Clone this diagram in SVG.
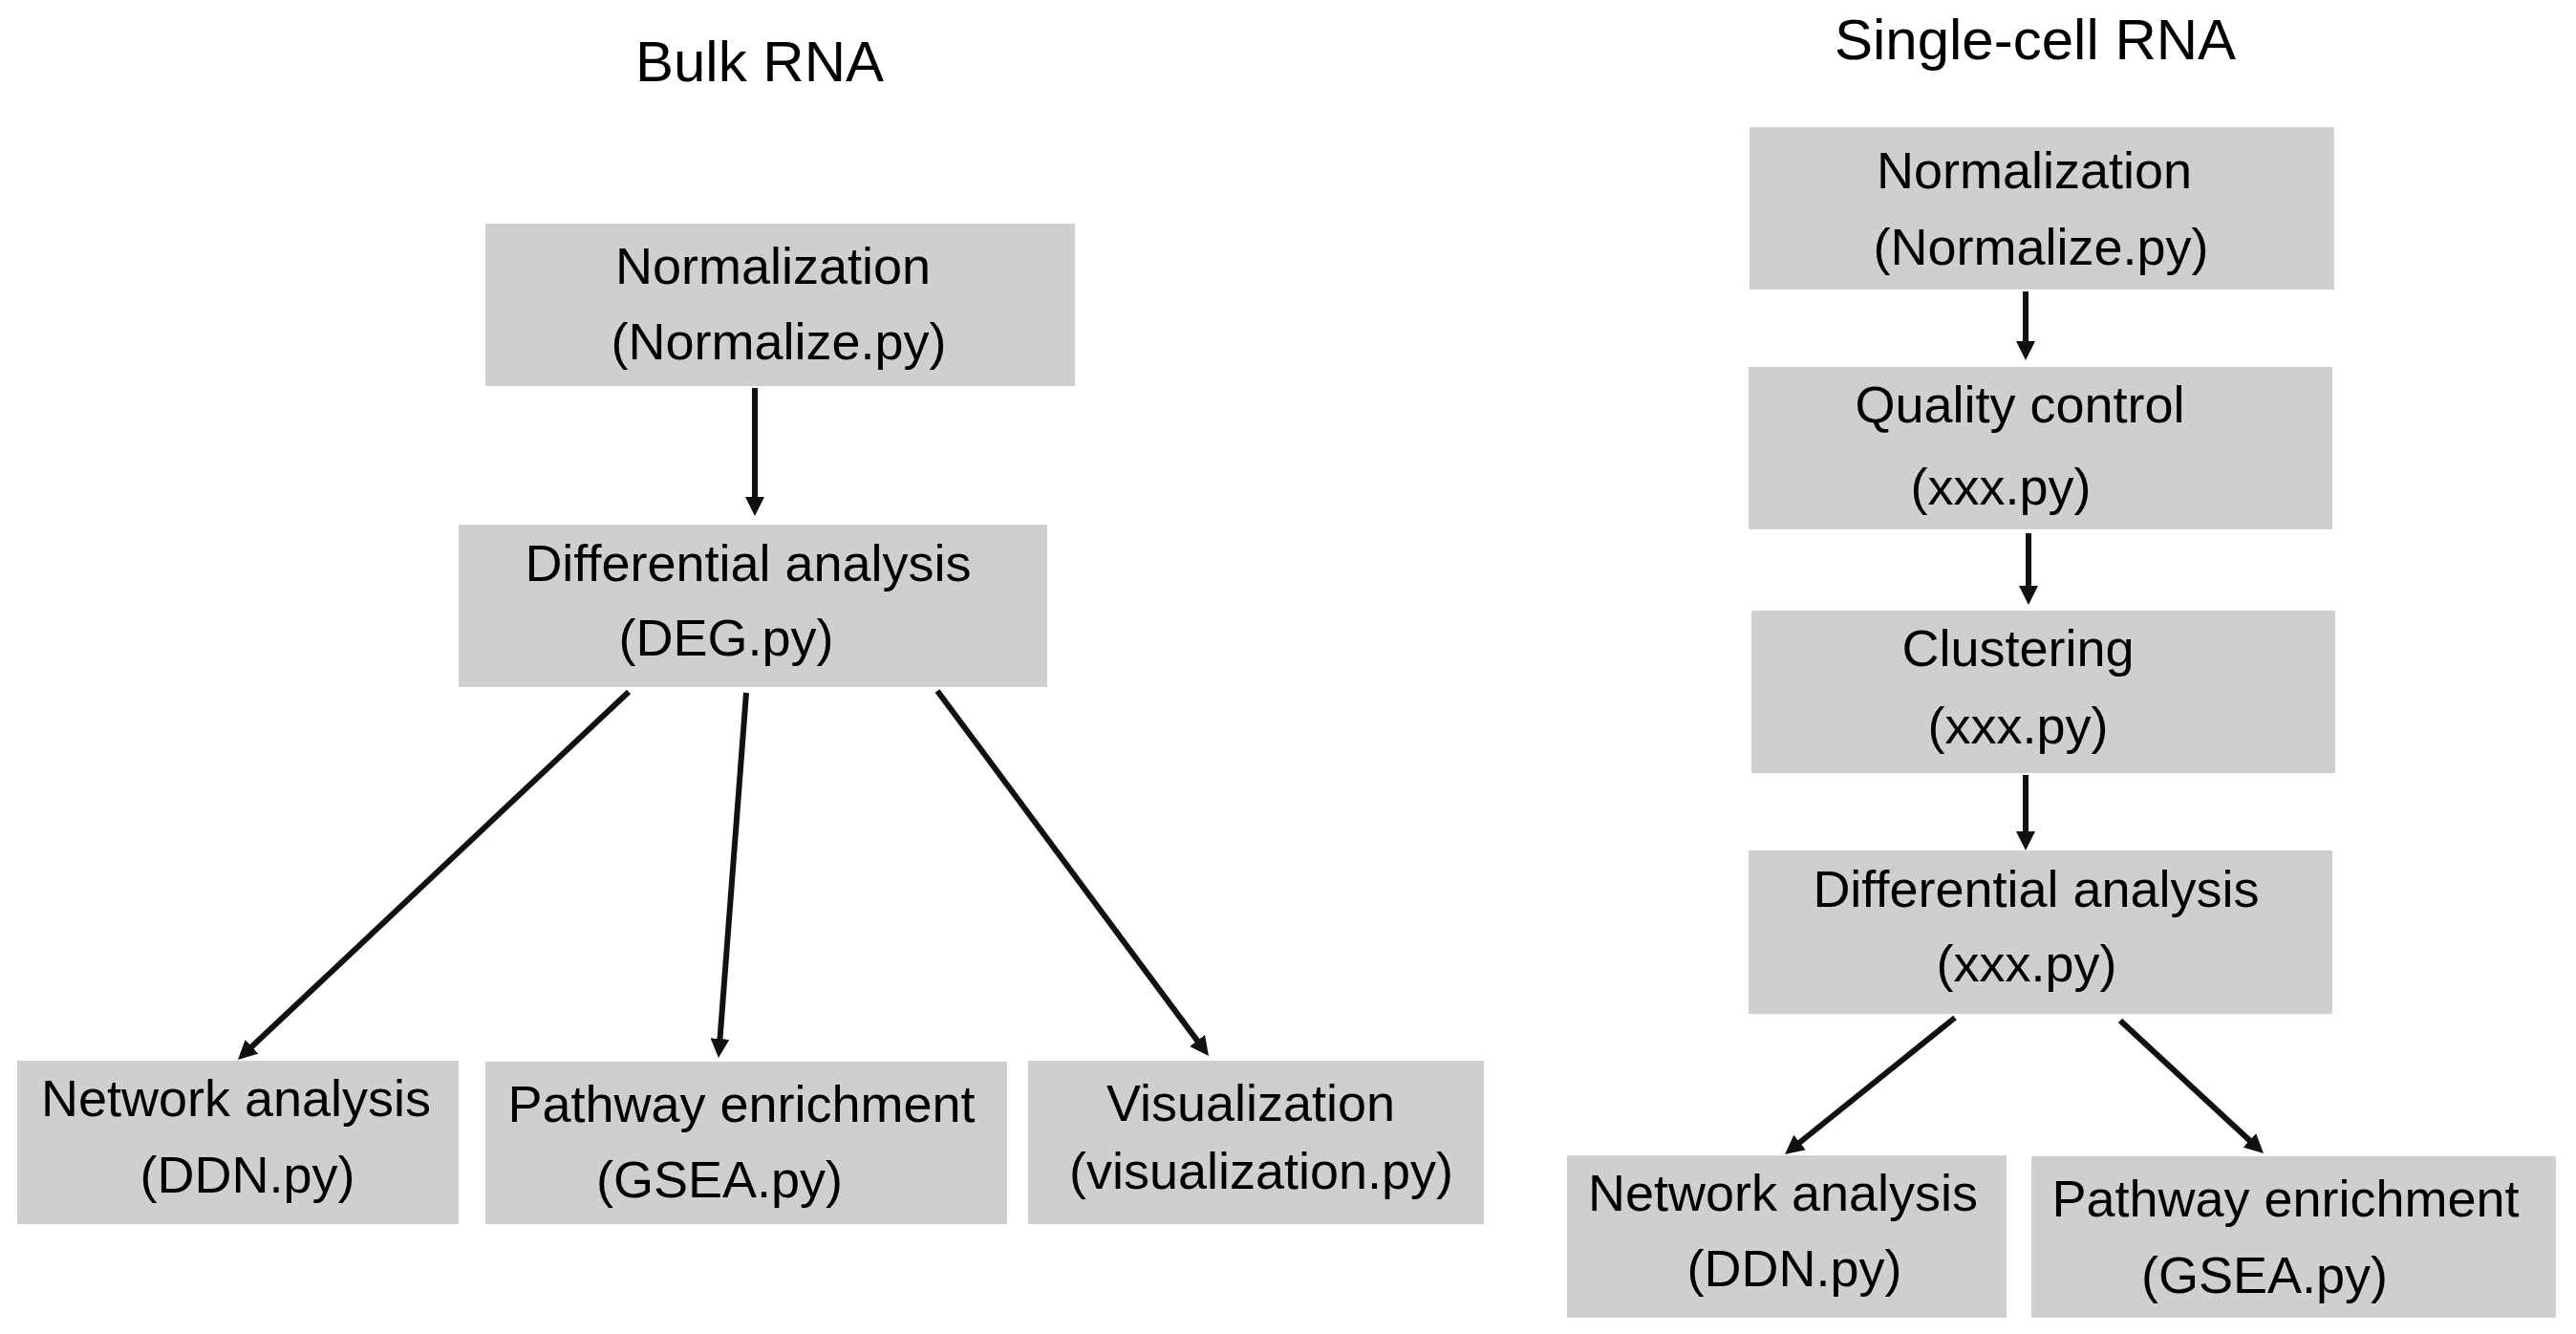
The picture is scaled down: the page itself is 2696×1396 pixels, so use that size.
<svg xmlns="http://www.w3.org/2000/svg" width="2696" height="1396" viewBox="0 0 2696 1396">
<style>
.box{fill:#d0cece;}
.t{font-family:"Liberation Sans",Arial,sans-serif;font-size:54px;fill:#000;text-anchor:middle;}
.title{font-family:"Liberation Sans",Arial,sans-serif;font-size:60px;fill:#000;text-anchor:middle;}
.c{stroke:#111;stroke-width:6;fill:none;marker-end:url(#ah);}
</style>
<defs>
<marker id="ah" markerUnits="userSpaceOnUse" markerWidth="20" markerHeight="20" refX="8" refY="10" orient="auto" viewBox="0 0 20 20">
<path d="M0,0 L20,10 L0,20 z" fill="#111"/>
</marker>
</defs>
<rect width="2696" height="1396" fill="#fff"/>
<text class="title" x="795" y="85">Bulk RNA</text>
<text class="title" x="2130" y="62">Single-cell RNA</text>
<g id="connectors">
<line class="c" x1="790" y1="406" x2="790" y2="528"/>
<line class="c" x1="658" y1="724" x2="257.7" y2="1100.8"/>
<line class="c" x1="781" y1="725" x2="752.9" y2="1095"/>
<line class="c" x1="981" y1="723" x2="1257.8" y2="1095.4"/>
<line class="c" x1="2120" y1="305" x2="2120" y2="365"/>
<line class="c" x1="2123" y1="558" x2="2123" y2="621"/>
<line class="c" x1="2120" y1="811" x2="2120" y2="878"/>
<line class="c" x1="2046" y1="1065" x2="1877.4" y2="1200.5"/>
<line class="c" x1="2219" y1="1068" x2="2360.2" y2="1198.8"/>
</g>
<g id="bulk-normalization">
<rect class="box" x="508" y="234" width="617" height="170"/>
<text class="t" x="809" y="297">Normalization</text>
<text class="t" x="815" y="376">(Normalize.py)</text>
</g>
<g id="bulk-differential">
<rect class="box" x="480" y="549" width="616" height="170"/>
<text class="t" x="783" y="608">Differential analysis</text>
<text class="t" x="760" y="686">(DEG.py)</text>
</g>
<g id="bulk-network">
<rect class="box" x="18" y="1110" width="462" height="171"/>
<text class="t" x="247" y="1168">Network analysis</text>
<text class="t" x="259" y="1248">(DDN.py)</text>
</g>
<g id="bulk-pathway">
<rect class="box" x="508" y="1111" width="546" height="170"/>
<text class="t" x="776" y="1174">Pathway enrichment</text>
<text class="t" x="753" y="1253">(GSEA.py)</text>
</g>
<g id="bulk-visualization">
<rect class="box" x="1076" y="1110" width="477" height="171"/>
<text class="t" x="1309" y="1173">Visualization</text>
<text class="t" x="1320" y="1244">(visualization.py)</text>
</g>
<g id="sc-normalization">
<rect class="box" x="1831" y="133" width="612" height="170"/>
<text class="t" x="2129" y="197">Normalization</text>
<text class="t" x="2136" y="277">(Normalize.py)</text>
</g>
<g id="sc-quality">
<rect class="box" x="1830" y="384" width="611" height="170"/>
<text class="t" x="2114" y="442">Quality control</text>
<text class="t" x="2094" y="528">(xxx.py)</text>
</g>
<g id="sc-clustering">
<rect class="box" x="1833" y="639" width="611" height="170"/>
<text class="t" x="2112" y="697">Clustering</text>
<text class="t" x="2112" y="778">(xxx.py)</text>
</g>
<g id="sc-differential">
<rect class="box" x="1830" y="890" width="611" height="171"/>
<text class="t" x="2131" y="949">Differential analysis</text>
<text class="t" x="2121" y="1027">(xxx.py)</text>
</g>
<g id="sc-network">
<rect class="box" x="1640" y="1209" width="460" height="170"/>
<text class="t" x="1866" y="1267">Network analysis</text>
<text class="t" x="1878" y="1346">(DDN.py)</text>
</g>
<g id="sc-pathway">
<rect class="box" x="2126" y="1210" width="549" height="169"/>
<text class="t" x="2392" y="1273">Pathway enrichment</text>
<text class="t" x="2370" y="1353">(GSEA.py)</text>
</g>
</svg>
